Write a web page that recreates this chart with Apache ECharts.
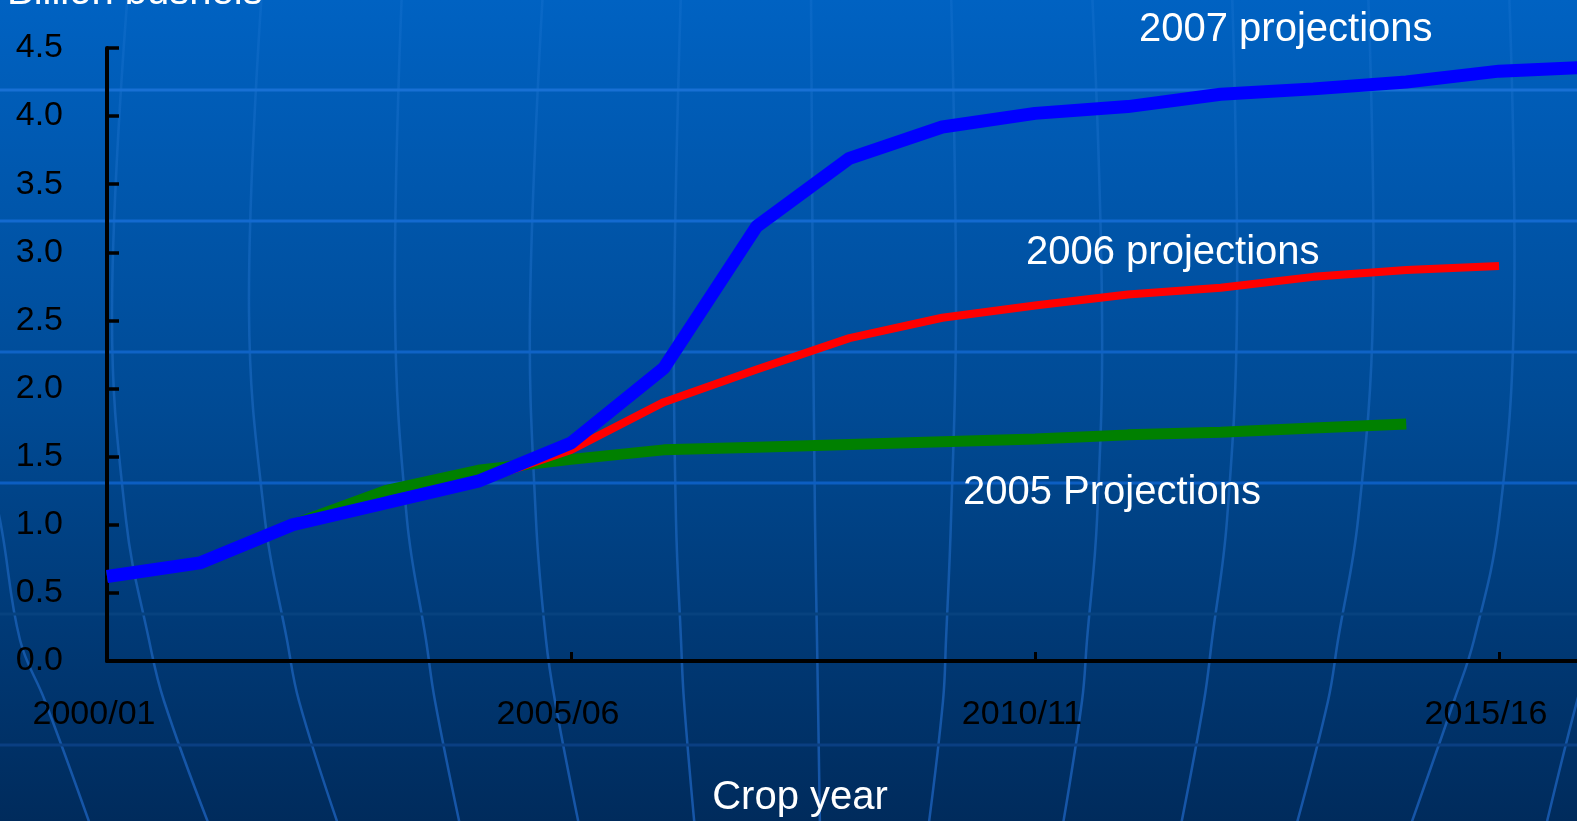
<!DOCTYPE html>
<html>
<head>
<meta charset="utf-8">
<script src="https://cdn.jsdelivr.net/npm/echarts@6/dist/echarts.min.js"></script>
<style>
  html, body { margin: 0; padding: 0; overflow: hidden; }
  #main { width: 1577px; height: 821px; }
</style>
</head>
<body>
<div id="main"></div>
<script>
// crop years on the x axis
const years = ["2000/01", "2001/02", "2002/03", "2003/04", "2004/05", "2005/06", "2006/07", "2007/08",
  "2008/09", "2009/10", "2010/11", "2011/12", "2012/13", "2013/14", "2014/15", "2015/16", "2016/17"];

// billion bushels
const proj2005 = [0.62, 0.72, 1.00, 1.25, 1.40, 1.48, 1.55, 1.57, 1.59, 1.61, 1.63, 1.66, 1.68, 1.71, 1.74, null, null];
const proj2006 = [null, null, null, null, 1.32, 1.55, 1.90, 2.14, 2.37, 2.52, 2.61, 2.69, 2.74, 2.82, 2.87, 2.90, null];
const proj2007 = [0.62, 0.72, 1.00, 1.16, 1.32, 1.60, 2.15, 3.19, 3.69, 3.92, 4.02, 4.07, 4.16, 4.20, 4.25, 4.33, 4.36];

const FONT = '"Liberation Sans", Arial, sans-serif';

// background "globe" decoration
const latY = [90, 221, 352, 483, 614, 745];
const latColor = ["#1870d4", "#136ad0", "#0f63c6", "#0c5ec2", "#07427f", "#0a3f82"];
const merY = [-10, 310, 520, 640, 701, 830];
const merX = [
  [-70, -45, 0, 20, 45, 92],
  [128, 112, 126, 149, 164, 211],
  [262, 249, 265, 287, 299, 340],
  [402, 395, 407, 426, 435, 461],
  [543, 530, 536, 546, 555, 580],
  [681, 674, 676, 681, 684, 695],
  [811, 813, 815, 817, 818, 820],
  [951, 956, 951, 946, 943, 928],
  [1092, 1102, 1097, 1087, 1082, 1062],
  [1232, 1237, 1227, 1212, 1204, 1180],
  [1368, 1373, 1358, 1338, 1328, 1295],
  [1509, 1514, 1499, 1474, 1454, 1409],
  [1650, 1655, 1630, 1595, 1577, 1545]
];

// x axis is an index axis; the last crop year falls just past the right edge
function toPairs(arr) {
  let out = [];
  for (let i = 0; i < arr.length; i++) {
    if (arr[i] != null) out.push([i, arr[i]]);
  }
  return out;
}

let myChart = echarts.init(document.getElementById("main"));

let graphics = [];
graphics.push({
  type: "rect",
  z: -10,
  shape: { x: 0, y: 0, width: 1577, height: 821 },
  style: {
    fill: new echarts.graphic.LinearGradient(0, 0, 0, 1, [
      { offset: 0, color: "#0062c2" },
      { offset: 0.5, color: "#004a94" },
      { offset: 1, color: "#002b5c" }
    ])
  },
  silent: true
});
for (let i = 0; i < merX.length; i++) {
  graphics.push({
    type: "polyline",
    z: -9,
    shape: { points: merX[i].map((x, j) => [x, merY[j]]), smooth: 0.4 },
    style: {
      // fainter near the top, clearer near the bottom
      stroke: new echarts.graphic.LinearGradient(0, 0, 0, 821, [
        { offset: 0, color: "rgba(60,140,230,0.15)" },
        { offset: 0.5, color: "rgba(50,130,230,0.35)" },
        { offset: 1, color: "rgba(40,120,230,0.55)" }
      ], true),
      lineWidth: 2.5,
      fill: null
    },
    silent: true
  });
}
for (let i = 0; i < latY.length; i++) {
  graphics.push({
    type: "line",
    z: -8,
    shape: { x1: 0, y1: latY[i], x2: 1577, y2: latY[i] },
    style: { stroke: latColor[i], lineWidth: 3 },
    silent: true
  });
}
// texts
const texts = [
  { text: "Billion bushels", x: 7, y: -7, align: "left" },
  { text: "2007 projections", x: 1139, y: 30, align: "left" },
  { text: "2006 projections", x: 1026, y: 253, align: "left" },
  { text: "2005 Projections", x: 963, y: 493, align: "left" },
  { text: "Crop year", x: 800, y: 798, align: "center" }
];
texts.forEach(t => {
  graphics.push({
    type: "text",
    z: 10,
    x: t.x,
    y: t.y,
    style: {
      text: t.text,
      fill: "#ffffff",
      font: "40px " + FONT,
      textAlign: t.align,
      textVerticalAlign: "middle"
    },
    silent: true
  });
});

let option = {
  animation: false,
  graphic: graphics,
  grid: { left: 107, right: 0, top: 48, bottom: 160, outerBoundsMode: "none" },
  xAxis: {
    type: "value",
    min: 0,
    max: 15.84, // 92.8 px per crop year across a 1470 px wide grid
    interval: 5,
    axisLine: { show: true, onZero: false, lineStyle: { color: "#000", width: 4 } },
    axisTick: { show: true, inside: true, length: 9, lineStyle: { color: "#000", width: 3 } },
    axisLabel: {
      color: "#000",
      fontSize: 34,
      fontFamily: FONT,
      margin: 37,
      padding: [0, 26, 0, 0],
      showMaxLabel: false,
      formatter: v => (Number.isInteger(v) && years[v]) ? years[v] : ""
    },
    splitLine: { show: false }
  },
  yAxis: {
    type: "value",
    min: 0,
    max: 4.5,
    interval: 0.5,
    axisLine: { show: true, lineStyle: { color: "#000", width: 4 } },
    axisTick: { show: true, inside: true, length: 12, lineStyle: { color: "#000", width: 3.5 } },
    axisLabel: {
      color: "#000",
      fontSize: 34,
      fontFamily: FONT,
      margin: 44,
      formatter: v => v.toFixed(1)
    },
    splitLine: { show: false }
  },
  series: [
    {
      name: "2005 Projections",
      type: "line",
      data: toPairs(proj2005),
      showSymbol: false,
      symbol: "none",
      lineStyle: { color: "#008000", width: 11 }
    },
    {
      name: "2006 projections",
      type: "line",
      data: toPairs(proj2006),
      showSymbol: false,
      symbol: "none",
      lineStyle: { color: "#ff0000", width: 8 }
    },
    {
      name: "2007 projections",
      type: "line",
      data: toPairs(proj2007),
      showSymbol: false,
      symbol: "none",
      lineStyle: { color: "#0000ff", width: 13 }
    }
  ]
};

myChart.setOption(option, true);
</script>
</body>
</html>
